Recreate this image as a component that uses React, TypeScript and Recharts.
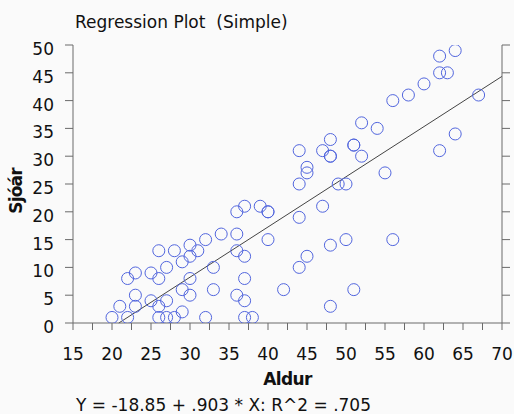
import { ReferenceLine, Scatter, ScatterChart, XAxis, YAxis } from "recharts";

// Aldur (x) and Sjóár (y) pairs
const aldur = [
  20, 22, 21, 23, 23, 22, 23, 25, 26, 25, 26, 27, 26, 27, 28, 29, 29, 30, 30, 27,
  29, 28, 26, 30, 30, 31, 32, 34, 32, 33, 33, 36, 36, 37, 36, 37, 39, 40, 40, 40,
  37, 36, 37, 37, 38, 42, 64, 62, 62, 63, 60, 58, 56, 67, 52, 54, 48, 51, 51, 47,
  44, 48, 48, 52, 45, 45, 44, 55, 49, 50, 62, 64, 47, 44, 48, 50, 56, 45, 44, 51,
  48,
];
const sjoar = [
  1, 1, 3, 3, 5, 8, 9, 9, 8, 4, 3, 4, 1, 1, 1, 2, 6, 5, 8, 10,
  11, 13, 13, 12, 14, 13, 15, 16, 1, 6, 10, 16, 13, 12, 20, 21, 21, 20, 20, 15,
  8, 5, 4, 1, 1, 6, 49, 48, 45, 45, 43, 41, 40, 41, 36, 35, 33, 32, 32, 31,
  31, 30, 30, 30, 28, 27, 25, 27, 25, 25, 31, 34, 21, 19, 14, 15, 15, 12, 10, 6,
  3,
];

const xTickLabels = [15, 20, 25, 30, 35, 40, 45, 50, 55, 60, 65, 70];
const yTickLabels = [0, 5, 10, 15, 20, 25, 30, 35, 40, 45, 50];

// regression from the caption
const intercept = -18.85;
const slope = 0.903;
const r2 = 0.705;

const data = aldur.map((x, i) => ({ x, y: sjoar[i] }));

const xTicks: number[] = [];
xTickLabels.forEach((t, i) => {
  xTicks.push(t);
  if (i < xTickLabels.length - 1) xTicks.push(t + 2.5);
});

const xMin = xTickLabels[0];
const xMax = xTickLabels[xTickLabels.length - 1];
const lineStart = { x: -intercept / slope, y: 0 };
const lineEnd = { x: xMax, y: intercept + slope * xMax };

const FONT = "'DejaVu Sans', Verdana, sans-serif";
const AXIS = "#6a6a6a";
const TEXT = "#111";

const isMajor = (v: number) => v % 5 === 0;

function BottomTick({ x, y, payload }: any) {
  const v = payload.value;
  return (
    <g>
      <line x1={x} x2={x} y1={y} y2={y + 7} stroke={AXIS} />
      {isMajor(v) && (
        <text x={x} y={y + 36.5} textAnchor="middle" fontSize={17} fontFamily={FONT} fill={TEXT}>
          {v}
        </text>
      )}
    </g>
  );
}

function TopTick({ x, y, payload }: any) {
  const len = isMajor(payload.value) ? 8 : 4;
  return <line x1={x} x2={x} y1={y} y2={y - len} stroke={AXIS} />;
}

function LeftTick({ x, y, payload }: any) {
  return (
    <g>
      <line x1={x} x2={x - 8} y1={y} y2={y} stroke={AXIS} />
      <text x={x - 19} y={y + 10} textAnchor="end" fontSize={17} fontFamily={FONT} fill={TEXT}>
        {payload.value}
      </text>
    </g>
  );
}

function RightTick({ x, y }: any) {
  return <line x1={x} x2={x + 8} y1={y} y2={y} stroke={AXIS} />;
}

function Ring(props: any) {
  return <circle cx={props.cx} cy={props.cy} r={6} fill="none" stroke="#5266de" strokeWidth={1} />;
}

export default function App() {
  return (
    <div style={{ position: "absolute", left: 0, top: 0, width: 514, height: 414, background: "#fafafa" }}>
      <ScatterChart width={514} height={414} margin={{ top: 45, right: 0, bottom: 0, left: 0 }}>
        <XAxis
          type="number"
          dataKey="x"
          domain={[xMin, xMax]}
          ticks={xTicks}
          interval={0}
          height={91}
          tickSize={0}
          tickMargin={0}
          tick={<BottomTick />}
          axisLine={{ stroke: AXIS }}
          allowDataOverflow
        />
        <XAxis
          xAxisId="top"
          orientation="top"
          type="number"
          domain={[xMin, xMax]}
          ticks={xTicks}
          interval={0}
          height={0}
          tickSize={0}
          tickMargin={0}
          tick={<TopTick />}
          axisLine={{ stroke: AXIS }}
          allowDataOverflow
        />
        <YAxis
          type="number"
          dataKey="y"
          domain={[0, 50]}
          ticks={yTickLabels}
          interval={0}
          width={73}
          tickSize={0}
          tickMargin={0}
          tick={<LeftTick />}
          axisLine={{ stroke: AXIS }}
          allowDataOverflow
        />
        <YAxis
          yAxisId="right"
          orientation="right"
          type="number"
          domain={[0, 50]}
          ticks={yTickLabels}
          interval={0}
          width={12}
          tickSize={0}
          tickMargin={0}
          tick={<RightTick />}
          axisLine={{ stroke: AXIS }}
          allowDataOverflow
        />
        <ReferenceLine segment={[lineStart, lineEnd]} stroke="#444" strokeWidth={1} />
        <Scatter data={data} shape={<Ring />} isAnimationActive={false} />
      </ScatterChart>
      <svg
        width={514}
        height={414}
        style={{ position: "absolute", left: 0, top: 0, pointerEvents: "none" }}
        fontFamily={FONT}
        fill={TEXT}
      >
        <text x={75} y={28} fontSize={17}>
          Regression Plot{"\u00a0\u00a0"}(Simple)
        </text>
        <text x={287.5} y={385} fontSize={17} textAnchor="middle" fontWeight="bold" style={{ letterSpacing: -0.6 }}>
          Aldur
        </text>
        <text
          transform="translate(22,191) rotate(-90)"
          fontSize={17}
          textAnchor="middle"
          fontWeight="bold"
          style={{ letterSpacing: -0.8 }}
        >
          Sjóár
        </text>
        <text x={76} y={411} fontSize={17}>
          {`Y = ${intercept.toFixed(2)} + ${slope.toFixed(3).replace(/^0/, "")} * X: R^2 = ${r2
            .toFixed(3)
            .replace(/^0/, "")}`}
        </text>
      </svg>
    </div>
  );
}
